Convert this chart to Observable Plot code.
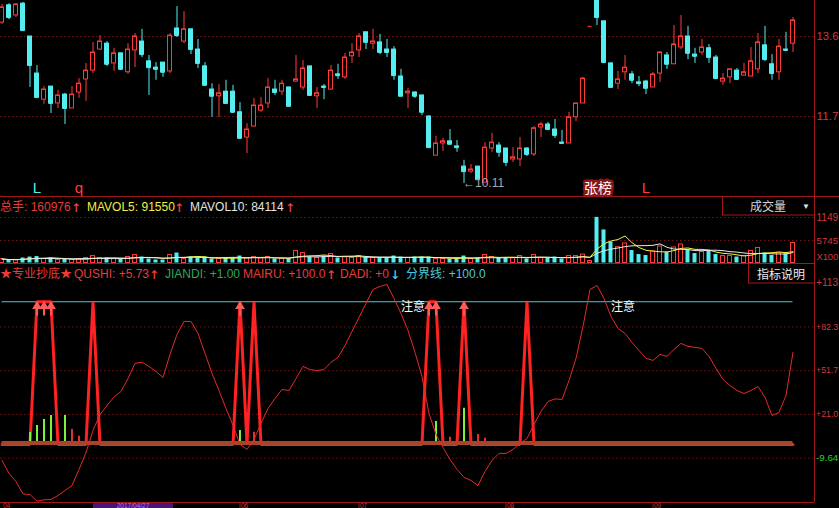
<!DOCTYPE html>
<html>
<head>
<meta charset="utf-8">
<script src="https://cdn.jsdelivr.net/npm/d3@7"></script>
<script src="https://cdn.jsdelivr.net/npm/@observablehq/plot@0.6"></script>
<style>
html,body{margin:0;padding:0;background:#000;}
body{position:relative;width:839px;height:508px;overflow:hidden;}
.panel{position:absolute;left:0;}
svg{display:block;}
#overlay{position:absolute;left:0;top:0;pointer-events:none;}
</style>
</head>
<body>
<div id="price" class="panel" style="top:0px"></div>
<div id="vol" class="panel" style="top:197px"></div>
<div id="ind" class="panel" style="top:263px"></div>
<div id="dates" class="panel" style="top:502px"></div>
<svg id="overlay" width="839" height="508"></svg>
<script>
// ---------------- data ----------------
const open = [13.93,14.34,14.10,14.38,13.60,12.72,12.10,12.41,12.01,12.22,
11.89,12.27,12.58,12.79,13.29,13.43,12.96,13.20,12.75,13.27,
13.48,13.01,12.86,12.98,12.77,13.79,13.48,13.77,13.29,12.89,
12.34,12.18,12.29,12.29,11.80,11.20,11.46,11.84,12.01,12.34,
12.29,12.39,12.53,12.39,12.89,12.18,12.41,12.34,12.70,12.63,
13.13,13.27,13.70,13.43,13.46,13.29,13.29,12.65,12.25,12.27,
12.20,11.70,10.77,11.06,11.11,10.99,10.51,10.39,10.51,10.13,
10.94,11.01,10.94,10.68,10.68,10.94,10.80,11.44,11.51,11.39,
11.08,11.06,11.68,12.01,13.84,14.55,13.96,12.96,12.48,12.75,
12.70,12.51,12.53,12.39,12.72,13.15,12.94,13.34,13.60,13.17,
13.22,13.32,13.10,12.53,12.63,12.79,12.67,12.65,12.82,13.39,
12.94,12.75,13.29,13.43];
const high = [14.36,14.38,14.38,14.41,13.60,12.91,12.41,12.41,12.32,12.25,
12.41,12.60,12.96,13.46,13.62,13.48,13.32,13.20,13.43,13.67,
13.77,13.15,12.98,12.98,13.67,14.31,14.19,13.77,13.53,12.98,
12.48,12.46,12.56,12.44,12.03,11.53,12.13,12.15,12.60,12.56,
12.56,12.39,13.15,13.03,12.89,12.39,12.46,12.91,12.94,13.20,
13.43,13.67,13.70,13.77,13.65,13.53,13.36,12.82,12.37,12.29,
12.20,11.72,11.23,11.18,11.39,11.13,10.66,10.56,10.51,11.08,
11.30,11.08,10.94,10.96,11.20,10.96,11.46,11.56,11.56,11.63,
11.37,11.80,12.01,12.63,13.84,14.65,13.96,12.98,12.77,13.15,
12.77,12.65,12.56,12.75,13.24,13.22,13.86,14.10,13.84,13.32,
13.53,13.41,13.15,12.72,12.84,12.84,12.96,13.34,13.67,13.84,
13.17,13.53,13.70,14.05];
const low = [13.89,14.00,14.05,13.74,12.39,12.13,11.99,11.77,11.89,11.51,
11.89,12.13,12.06,12.72,13.27,12.89,12.77,12.79,12.70,12.86,
13.10,12.20,12.56,12.63,12.72,13.58,13.43,13.17,12.84,12.41,
11.68,11.68,12.01,11.77,11.18,10.82,11.46,11.80,11.89,12.20,
12.20,11.94,12.51,12.32,12.18,11.89,12.10,12.32,12.58,12.58,
12.96,13.10,13.29,13.29,13.17,13.10,12.56,12.18,11.89,12.13,
11.72,10.94,10.77,10.87,11.04,10.85,10.11,10.35,10.18,10.13,
10.85,10.73,10.51,10.61,10.51,10.75,10.75,11.20,11.37,11.18,
11.06,11.06,11.58,12.01,13.84,13.86,12.96,12.39,12.34,12.56,
12.48,12.41,12.22,12.39,12.51,12.82,12.94,13.29,13.05,12.96,
13.15,12.96,12.58,12.44,12.48,12.56,12.67,12.65,12.72,13.01,
12.56,12.56,13.24,13.22];
const close = [14.29,14.05,14.36,13.74,12.91,12.15,12.34,12.01,12.20,11.89,
12.22,12.48,12.79,13.22,13.48,12.94,13.20,12.82,13.29,13.60,
13.17,12.86,12.82,12.75,13.62,13.62,13.77,13.29,12.96,12.44,
12.18,12.25,12.01,11.80,11.18,11.39,11.96,11.96,12.39,12.27,
12.48,11.94,12.58,12.84,12.20,12.25,12.39,12.79,12.67,13.10,
13.22,13.60,13.46,13.48,13.22,13.22,12.67,12.18,12.29,12.18,
11.80,10.96,11.06,11.11,11.04,10.96,10.39,10.44,10.20,10.96,
11.08,10.85,10.61,10.73,10.94,10.80,11.42,11.51,11.39,11.25,
11.06,11.68,12.01,12.60,13.84,14.05,12.98,12.39,12.58,12.86,
12.56,12.48,12.37,12.70,13.22,12.94,13.41,13.60,13.20,13.13,
13.34,13.10,12.60,12.60,12.82,12.58,12.75,13.01,13.46,13.05,
12.72,13.36,13.27,13.98];
const volume = [32000,24000,24000,40000,48000,52000,32000,40000,24000,32000,
24000,32000,40000,56000,40000,40000,32000,32000,48000,64000,
48000,32000,24000,24000,64000,80000,32000,48000,40000,48000,
32000,32000,40000,40000,56000,40000,48000,40000,48000,32000,
32000,32000,97000,80000,48000,40000,56000,72000,40000,48000,
40000,56000,48000,40000,40000,40000,56000,48000,40000,48000,
48000,48000,32000,32000,32000,40000,56000,32000,40000,64000,
48000,40000,40000,40000,56000,32000,64000,40000,36000,48000,
32000,56000,56000,68000,16000,367000,266000,169000,127000,157000,
100000,68000,60000,93000,133000,88000,125000,149000,109000,76000,
88000,100000,68000,56000,56000,48000,56000,97000,121000,80000,
60000,82000,74000,160976];
const qushi = [-11.2,-20.3,-26.0,-34.7,-35.1,-39.8,-38.8,-38.6,-35.8,-32.3,
-28.8,-17.5,-5.6,9.8,21.0,27.3,33.3,37.1,46.2,56.8,
57.7,54.7,51.1,46.9,63.1,77.1,86.2,86.2,77.8,63.8,
49.7,37.8,25.2,13.3,0.0,-3.5,3.5,14.7,25.2,32.2,
38.5,37.8,46.2,54.7,52.5,51.8,52.5,57.5,61.0,69.4,
79.2,89.0,98.8,108.6,110.7,112.1,102.3,91.8,79.9,64.5,
47.6,21.7,7.0,-2.1,-10.5,-17.5,-23.1,-25.3,-28.8,-18.9,
-11.2,-6.3,-6.3,-3.5,0.7,4.2,14.0,23.1,30.1,31.9,
31.5,44.8,60.3,82.7,108.6,111.4,102.3,89.7,81.3,77.8,
71.5,65.9,60.3,58.9,63.1,61.7,66.6,70.8,68.7,68.0,
67.3,61.7,53.3,45.5,41.3,37.8,35.7,37.8,40.6,32.9,
20.3,22.4,34.3,64.5];
const mairuDays = [5,6,7,13,34,36,61,62,66,75];
const mairuArrowDays = [5,6,7,34,61,62,66];
const histDays   = [4,5,6,7,9,10,11,34,36,38,62,64,66,68,69];
const histValues = [8.4,13.3,17.5,20.3,20.3,10.5,5.8,9.8,8.6,2.3,16.1,5.1,25.4,7.0,4.4];
const histGreen  = [true,true,true,true,true,false,false,true,false,false,true,false,true,false,false];
const jiandiLevel = 1.0;
const fenjieLevel = 100.0;
const noticeDays = [57,87];
const noticeText = "注意";

const priceTicks = [13.60, 11.70];
const priceTickLabels = ["13.6", "11.7"];
const volTicks = [366000, 181000, 45000];
const volTickLabels = ["1149", "5745", "X100"];
const indTicks = [113.0, 82.35, 51.70, 21.05, -9.64];
const indTickLabels = ["+113", "+82.3", "+51.7", "+21.0", "-9.64"];
const dateTickDays = [0, 34, 51, 72, 93];
const dateTickLabels = ["04", "06", "07", "08", "09"];
const cursorDate = "2017/04/27";
const priceNoteDays = [5, 11, 92];
const priceNoteText = ["L", "q", "L"];
const priceNoteUp = [false, true, true];
const boardDay = 85, boardText = "张榜";

// ---------------- style ----------------
const FONT = '"Liberation Sans","Noto Sans CJK SC",sans-serif';
const UP = "#ff3c3c", DOWN = "#54eef0", GRID = "#701414", FRAME = "#a01818", LABEL = "#d23838";
const X_DOMAIN = [-1.5/7, 812.5/7];
const HALF = 2/7;
const common = {width: 839, marginLeft: 0, marginRight: 25,
  style: {background: "transparent", overflow: "visible", fontFamily: FONT}};

const candles = open.map((o, i) => ({i, o, h: high[i], l: low[i], c: close[i], v: volume[i], up: close[i] >= o}));
const n = candles.length;
const lowest = d3.least(candles, d => d.l);
const notes = priceNoteDays.map((d, k) => ({i: d, t: priceNoteText[k], up: priceNoteUp[k]}));

// ---------------- price panel ----------------
const pricePlot = Plot.plot({
  ...common, height: 197, marginTop: 0, marginBottom: 1,
  x: {domain: X_DOMAIN, axis: null},
  y: {domain: [9.80, 14.455], axis: null},
  marks: [
    Plot.ruleY(priceTicks, {stroke: GRID, strokeDasharray: "1.5,2.5"}),
    Plot.text(priceTicks, {y: d => d, text: (d, k) => priceTickLabels[k], frameAnchor: "right", textAnchor: "start", dx: 2, fill: LABEL, fontSize: 12.5}),
    Plot.ruleX(candles, {filter: d => d.up, x: "i", y1: "l", y2: "h", stroke: UP}),
    Plot.ruleX(candles, {filter: d => !d.up, x: "i", y1: "l", y2: "h", stroke: DOWN}),
    Plot.rect(candles, {filter: d => d.up, x1: d => d.i - HALF, x2: d => d.i + HALF, y1: "o", y2: "c", fill: "#000", stroke: UP}),
    Plot.rect(candles, {filter: d => !d.up, x1: d => d.i - HALF, x2: d => d.i + HALF, y1: "o", y2: "c", fill: DOWN, stroke: DOWN}),
    Plot.ruleY(candles, {filter: d => d.up, y: "c", x1: d => d.i - HALF, x2: d => d.i + HALF, stroke: UP}),
    Plot.ruleY(candles, {filter: d => !d.up, y: "c", x1: d => d.i - HALF, x2: d => d.i + HALF, stroke: DOWN}),
    Plot.text(notes, {filter: d => !d.up, x: "i", text: "t", frameAnchor: "bottom", lineAnchor: "bottom", dy: -4, fill: DOWN, fontSize: 15}),
    Plot.text(notes, {filter: d => d.up, x: "i", text: "t", frameAnchor: "bottom", lineAnchor: "bottom", dy: -4, fill: UP, fontSize: 15}),
    Plot.text([{i: boardDay, t: boardText}], {x: "i", text: "t", frameAnchor: "bottom", lineAnchor: "bottom", dy: -4, dx: 1, fill: "#8a1616", stroke: "#8a1616", strokeWidth: 5, fontSize: 14}),
    Plot.text([{i: boardDay, t: boardText}], {x: "i", text: "t", frameAnchor: "bottom", lineAnchor: "bottom", dy: -4, dx: 1, fill: "#ffffff", fontSize: 14}),
    Plot.text([lowest], {x: "i", y: "l", text: d => "\u2190" + d3.format(".2f")(d.l), textAnchor: "start", lineAnchor: "middle", dx: -1, fill: "#a8a8a8", fontSize: 12})
  ]
});
document.getElementById("price").appendChild(pricePlot);

// ---------------- volume panel ----------------
const volPlot = Plot.plot({
  ...common, height: 66, marginTop: 0, marginBottom: 0,
  x: {domain: X_DOMAIN, axis: null},
  y: {domain: [0, 527000], range: [65.5, 0], axis: null},
  marks: [
    Plot.ruleY(volTicks.slice(0, 2), {stroke: GRID, strokeDasharray: "1.5,2.5"}),
    Plot.text(volTicks, {y: d => d, text: (d, k) => volTickLabels[k], frameAnchor: "right", textAnchor: "start", dx: 2, fill: LABEL, fontSize: 12}),
    Plot.rect(candles, {filter: d => d.up, x1: d => d.i - HALF, x2: d => d.i + HALF, y1: 0, y2: "v", fill: "#000", stroke: UP}),
    Plot.rect(candles, {filter: d => !d.up, x1: d => d.i - HALF, x2: d => d.i + HALF, y1: 0, y2: "v", fill: DOWN}),
    Plot.lineY(candles, Plot.windowY({k: 5, anchor: "end", reduce: "mean"}, {x: "i", y: "v", stroke: "#f2f040", strokeWidth: 1})),
    Plot.lineY(candles, Plot.windowY({k: 10, anchor: "end", reduce: "mean"}, {x: "i", y: "v", stroke: "#e8e8e8", strokeWidth: 1}))
  ]
});
document.getElementById("vol").appendChild(volPlot);

// ---------------- indicator panel ----------------
const mairu = candles.map(d => ({i: d.i, v: mairuDays.includes(d.i) ? 100 : 0}));
const hist = histDays.map((d, k) => ({i: d, v: histValues[k], g: histGreen[k]}));
const qs = qushi.map((v, i) => ({i, v}));
const indPlot = Plot.plot({
  ...common, height: 239, marginTop: 0, marginBottom: 0,
  x: {domain: X_DOMAIN, axis: null},
  y: {domain: [-40.7, 126.8], axis: null},
  marks: [
    Plot.ruleY(indTicks.slice(1), {stroke: GRID, strokeDasharray: "1.5,2.5"}),
    Plot.text(indTicks, {filter: d => d >= 0, y: d => d, text: (d, k) => indTickLabels[k], frameAnchor: "right", textAnchor: "start", dx: 1.5, fill: LABEL, fontSize: 12}),
    Plot.text(indTicks, {filter: d => d < 0, y: d => d, text: (d, k) => indTickLabels[k], frameAnchor: "right", textAnchor: "start", dx: 1.5, fill: "#2ed02e", fontSize: 12}),
    Plot.ruleY([fenjieLevel], {x1: 0, x2: n - 1, stroke: "#4cc6dc", strokeWidth: 1}),
    Plot.line(mairu, {x: "i", y: "v", stroke: "#ff2222", strokeWidth: 3, strokeLinejoin: "miter"}),
    Plot.ruleX(hist, {filter: d => d.g, x: "i", y1: 0, y2: "v", stroke: "#7cf03c", strokeWidth: 2}),
    Plot.ruleX(hist, {filter: d => !d.g, x: "i", y1: 0, y2: "v", stroke: "#e03030", strokeWidth: 2}),
    Plot.ruleY([jiandiLevel], {x1: 0, x2: n - 1, stroke: "#a8442e", strokeWidth: 4}),
    Plot.line(qs, {x: "i", y: "v", stroke: "#e42a2a", strokeWidth: 1}),
    Plot.ruleX(mairuArrowDays, {x: d => d, y1: 90, y2: 96, stroke: "#ff5a5a", strokeWidth: 2}),
    Plot.dot(mairuArrowDays, {x: d => d, y: 96.8, symbol: "triangle", r: 3.6, fill: "#ff5a5a"}),
    Plot.text(noticeDays, {x: d => d, y: fenjieLevel, text: () => noticeText, textAnchor: "start", lineAnchor: "top", dy: 1, fill: "#ffffff", fontSize: 12})
  ]
});
document.getElementById("ind").appendChild(indPlot);

// ---------------- date strip (only its top edge is in the window) ----------------
const datePlot = Plot.plot({
  ...common, height: 6, marginTop: 0, marginBottom: 0,
  x: {domain: X_DOMAIN, axis: null},
  marks: [
    Plot.ruleX(dateTickDays.slice(1), {x: d => d, stroke: FRAME}),
    Plot.text(dateTickDays, {x: d => d, text: (d, k) => dateTickLabels[k], frameAnchor: "top", lineAnchor: "top", textAnchor: "start", dx: 1, dy: 1, fill: LABEL, fontSize: 6.5})
  ]
});
document.getElementById("dates").appendChild(datePlot);

// ---------------- chrome: frames, headers, boxes ----------------
const ov = d3.select("#overlay").style("font-family", FONT);
function line(x1, y1, x2, y2) { ov.append("line").attr("x1", x1).attr("y1", y1).attr("x2", x2).attr("y2", y2).attr("stroke", FRAME).attr("stroke-width", 1); }
function txt(x, y, s, fill, size = 12) { return ov.append("text").attr("x", x).attr("y", y).attr("fill", fill).attr("font-size", size).text(s); }
function arrow(x, y, s, fill) { return txt(x, y, s, fill, 12).attr("font-family", '"DejaVu Sans",sans-serif').attr("font-weight", "bold"); }
line(0, 196.5, 839, 196.5);
line(0, 263.5, 814, 263.5);
line(0, 502.5, 814, 502.5);
line(814.5, 0, 814.5, 502.5);
// purple cursor-date box at the bottom edge
ov.append("rect").attr("x", 93).attr("y", 503).attr("width", 80).attr("height", 6).attr("fill", "#4a1478");
txt(133, 507.8, cursorDate, "#c870ff", 6.5).attr("text-anchor", "middle");

const HR = "#e63c3c";
txt(0, 211, "总手: 160976", HR);
arrow(71, 212, "\u2191", HR);
txt(87, 211, "MAVOL5: 91550", "#f0ee40");
arrow(174, 212, "\u2191", HR);
txt(190, 211, "MAVOL10: 84114", "#e4e4e4");
arrow(285, 212, "\u2191", HR);

txt(0, 278, "★专业抄底★", HR);
txt(74, 278, "QUSHI: +5.73", HR);
arrow(149, 279, "\u2191", HR);
txt(165, 278, "JIANDI: +1.00", "#2fa85a");
txt(243, 278, "MAIRU: +100.0", HR);
arrow(326, 279, "\u2191", HR);
txt(340, 278, "DADI: +0", HR);
arrow(390, 279, "\u2193", "#4cc6dc");
txt(406, 278, "分界线: +100.0", "#4cc6dc");

// 成交量 box
ov.append("rect").attr("x", 722.5).attr("y", 196.5).attr("width", 92).attr("height", 18.5).attr("fill", "#000").attr("stroke", FRAME);
txt(750, 211, "成交量", "#d4d4d4", 12);
txt(802, 209, "\u25BC", "#e0e0e0", 8);
// 指标说明 box
ov.append("rect").attr("x", 748.5).attr("y", 263.5).attr("width", 66).attr("height", 19.5).attr("fill", "#000").attr("stroke", FRAME);
txt(757, 279, "指标说明", "#ececec", 12);

// shrink any label that would run past the right edge of the window
document.querySelectorAll("svg text").forEach(t => {
  const r = t.getBoundingClientRect();
  if (r.width > 0 && r.right > 838.5) {
    const fs = parseFloat(getComputedStyle(t).fontSize);
    t.style.fontSize = (fs * (838.5 - r.left) / r.width).toFixed(2) + "px";
  }
});
</script>
</body>
</html>
